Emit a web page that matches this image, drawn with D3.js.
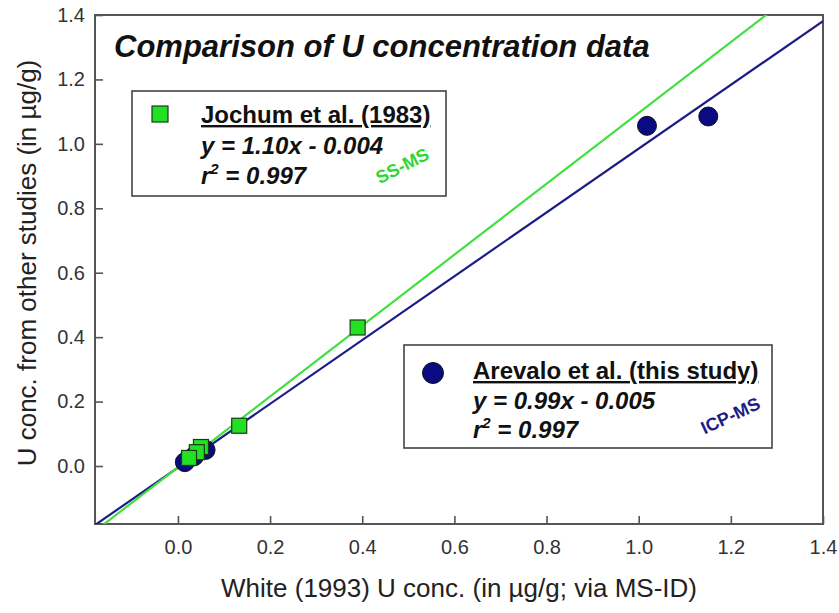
<!DOCTYPE html>
<html>
<head>
<meta charset="utf-8">
<script src="https://cdn.jsdelivr.net/npm/d3@7"></script>
<style>
  html, body { margin: 0; padding: 0; background: #fff; }
  svg { display: block; font-family: Arial, "Liberation Sans", sans-serif; }
</style>
</head>
<body>
<svg id="chart" width="839" height="613"></svg>
<script>
// U concentrations (µg/g): White (1993) MS-ID values on x, other studies on y
const jochumX = [0.05, 0.041, 0.024, 0.133, 0.39];
const jochumY = [0.059, 0.043, 0.025, 0.125, 0.43];
const arevaloX = [0.015, 0.035, 0.06, 1.018, 1.151];
const arevaloY = [0.012, 0.03, 0.05, 1.056, 1.085];

// Least-squares fits reported for each data set
const jochumFit = { slope: 1.10, intercept: -0.004 };
const arevaloFit = { slope: 0.99, intercept: -0.005 };

const tickValues = [0.0, 0.2, 0.4, 0.6, 0.8, 1.0, 1.2, 1.4];
const axisDomain = [-0.18, 1.4];

const green = "#22e022", greenLine = "#3fe03f";
const navy = "#0a0a82", navyLine = "#1c1c86";

const svg = d3.select("#chart");
const plotLeft = 95, plotRight = 823, plotTop = 15, plotBottom = 524;

const x = d3.scaleLinear().domain(axisDomain).range([plotLeft, plotRight]);
const y = d3.scaleLinear().domain(axisDomain).range([plotBottom, plotTop]);

// clip region for the regression lines
svg.append("defs").append("clipPath").attr("id", "plotClip")
  .append("rect").attr("x", plotLeft).attr("y", plotTop)
  .attr("width", plotRight - plotLeft).attr("height", plotBottom - plotTop);

// axes with inward ticks
const xAxis = d3.axisBottom(x).tickValues(tickValues).tickSize(-8).tickPadding(16)
  .tickFormat(d3.format(".1f"));
const yAxis = d3.axisLeft(y).tickValues(tickValues).tickSize(-8).tickPadding(10)
  .tickFormat(d3.format(".1f"));

const gx = svg.append("g").attr("transform", `translate(0,${plotBottom})`).call(xAxis);
const gy = svg.append("g").attr("transform", `translate(${plotLeft},0)`).call(yAxis);
[gx, gy].forEach(g => {
  g.select(".domain").remove();
  g.selectAll(".tick line").attr("stroke", "#555").attr("stroke-width", 1.6);
  g.selectAll(".tick text").attr("font-size", 20).attr("fill", "#333")
    .attr("font-family", "Arial, 'Liberation Sans', sans-serif");
});

// plot frame
svg.append("rect").attr("x", plotLeft).attr("y", plotTop)
  .attr("width", plotRight - plotLeft).attr("height", plotBottom - plotTop)
  .attr("fill", "none").attr("stroke", "#555").attr("stroke-width", 2);

// regression lines
const lineG = svg.append("g").attr("clip-path", "url(#plotClip)");
function fitLine(fit, color) {
  const pts = axisDomain.map(v => [v, fit.slope * v + fit.intercept]);
  lineG.append("path")
    .attr("d", d3.line().x(d => x(d[0])).y(d => y(d[1]))(pts))
    .attr("stroke", color).attr("stroke-width", 2.2).attr("fill", "none");
}
fitLine(arevaloFit, navyLine);
fitLine(jochumFit, greenLine);

// data markers
const arevalo = arevaloX.map((v, i) => [v, arevaloY[i]]);
const jochum = jochumX.map((v, i) => [v, jochumY[i]]);

svg.append("g").selectAll("circle").data(arevalo).join("circle")
  .attr("cx", d => x(d[0])).attr("cy", d => y(d[1])).attr("r", 9.5)
  .attr("fill", navy).attr("stroke", "#111").attr("stroke-width", 1);

const sq = 15;
svg.append("g").selectAll("rect").data(jochum).join("rect")
  .attr("x", d => x(d[0]) - sq / 2).attr("y", d => y(d[1]) - sq / 2)
  .attr("width", sq).attr("height", sq)
  .attr("fill", green).attr("stroke", "#1a3a1a").attr("stroke-width", 1.2);

// title
svg.append("text").attr("x", 114).attr("y", 57)
  .attr("font-size", 31).attr("font-weight", "bold").attr("font-style", "italic")
  .attr("fill", "#111").text("Comparison of U concentration data");

// legend boxes
function legend(bx, by, bw, bh, marker, name, eq, r2, method, methodColor, mx, my, tx, lines, methodPos, angle) {
  const g = svg.append("g");
  g.append("rect").attr("x", bx).attr("y", by).attr("width", bw).attr("height", bh)
    .attr("fill", "#fff").attr("stroke", "#444").attr("stroke-width", 1.6);
  marker(g, mx, my);
  g.append("text").attr("x", tx).attr("y", lines[0])
    .attr("font-size", 24).attr("font-weight", "bold").attr("fill", "#111")
    .attr("text-decoration", "underline").text(name);
  g.append("text").attr("x", tx).attr("y", lines[1])
    .attr("font-size", 24).attr("font-weight", "bold").attr("font-style", "italic")
    .attr("fill", "#111").text(eq);
  const t3 = g.append("text").attr("x", tx).attr("y", lines[2])
    .attr("font-size", 24).attr("font-weight", "bold").attr("font-style", "italic")
    .attr("fill", "#111");
  t3.append("tspan").text("r");
  t3.append("tspan").attr("font-size", 15).attr("dy", -10).text("2");
  t3.append("tspan").attr("dy", 10).text(" = " + r2);
  g.append("text").attr("transform", `translate(${methodPos[0]},${methodPos[1]}) rotate(${angle})`)
    .attr("text-anchor", "middle").attr("dominant-baseline", "middle")
    .attr("font-size", 18).attr("font-weight", "bold")
    .attr("fill", methodColor).text(method);
}

legend(132, 91, 314, 105,
  (g, cx, cy) => g.append("rect").attr("x", cx - 8).attr("y", cy - 8).attr("width", 16).attr("height", 16)
    .attr("fill", green).attr("stroke", "#1a3a1a").attr("stroke-width", 1.2),
  "Jochum et al. (1983)", "y = 1.10x - 0.004", "0.997", "SS-MS", "#2ed82e",
  160, 114, 201, [123, 154, 184], [403, 167], -27);

legend(404, 345, 368, 103,
  (g, cx, cy) => g.append("circle").attr("cx", cx).attr("cy", cy).attr("r", 10.5)
    .attr("fill", navy).attr("stroke", "#111").attr("stroke-width", 1),
  "Arevalo et al. (this study)", "y = 0.99x - 0.005", "0.997", "ICP-MS", "#1c1c86",
  433, 373, 473, [379, 409, 438], [731, 417], -25);

// axis titles
svg.append("text").attr("x", 459).attr("y", 597).attr("text-anchor", "middle")
  .attr("font-size", 26).attr("fill", "#222")
  .text("White (1993) U conc. (in \u00b5g/g; via MS-ID)");
svg.append("text").attr("transform", "translate(36,263) rotate(-90)")
  .attr("text-anchor", "middle").attr("font-size", 26).attr("fill", "#222")
  .text("U conc. from other studies (in \u00b5g/g)");
</script>
</body>
</html>
